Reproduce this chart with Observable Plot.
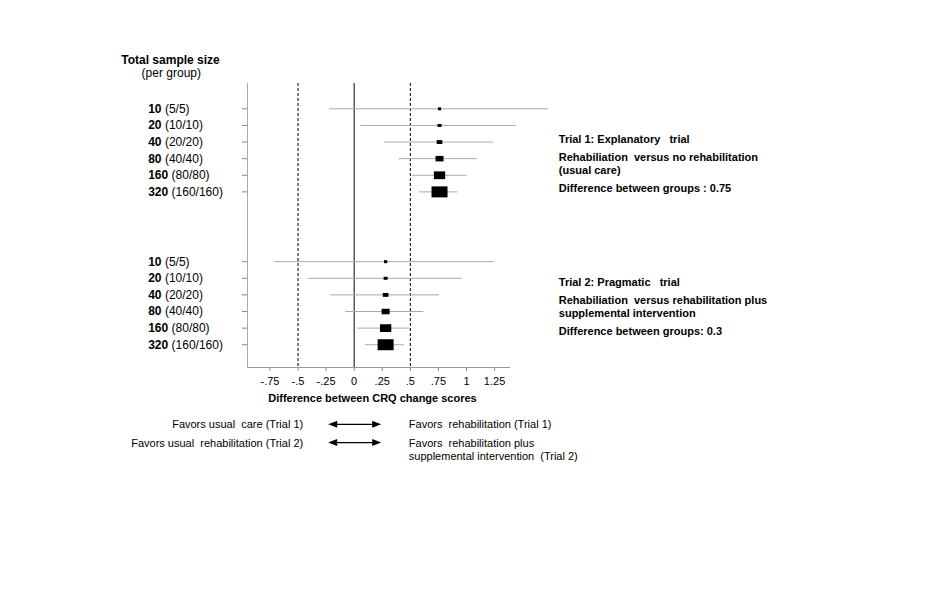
<!DOCTYPE html>
<html>
<head>
<meta charset="utf-8">
<script src="https://cdn.jsdelivr.net/npm/d3@7"></script>
<script src="https://cdn.jsdelivr.net/npm/@observablehq/plot@0.6"></script>
<style>
  body { margin: 0; background: #fff; }
  #chart { width: 940px; height: 600px; }
</style>
</head>
<body>
<div id="chart"></div>
<script>
// ---------- data ----------
const sampleSizes = [10, 20, 40, 80, 160, 320];
const trial1Estimate = [0.76, 0.76, 0.76, 0.76, 0.76, 0.76];
const trial1Lower    = [-0.22, 0.06, 0.27, 0.40, 0.52, 0.58];
const trial1Upper    = [1.73, 1.445, 1.24, 1.095, 1.005, 0.925];
const trial2Estimate = [0.28, 0.28, 0.28, 0.28, 0.28, 0.28];
const trial2Lower    = [-0.71, -0.41, -0.21, -0.075, 0.03, 0.10];
const trial2Upper    = [1.25, 0.965, 0.76, 0.62, 0.495, 0.445];
const xTicks = [-0.75, -0.5, -0.25, 0, 0.25, 0.5, 0.75, 1, 1.25];
const referenceLines = [-0.5, 0.5];

const trial1Notes = ["Trial 1: Explanatory   trial", "Rehabiliation  versus no rehabilitation", "(usual care)", "Difference between groups : 0.75"];
const trial2Notes = ["Trial 2: Pragmatic   trial", "Rehabiliation  versus rehabilitation plus", "supplemental intervention", "Difference between groups: 0.3"];
const favorsLeft  = ["Favors usual  care (Trial 1)", "Favors usual  rehabilitation (Trial 2)"];
const favorsRight = ["Favors  rehabilitation (Trial 1)", "Favors  rehabilitation plus", "supplemental intervention  (Trial 2)"];
const titleLines = ["Total sample size", "(per group)"];
const xLabel = "Difference between CRQ change scores";

// ---------- table ----------
const TRIAL_OFFSET = 9.2; // row index shift of the second block
const rows = [];
[[trial1Estimate, trial1Lower, trial1Upper], [trial2Estimate, trial2Lower, trial2Upper]].forEach(([est, lo, hi], t) => {
  sampleSizes.forEach((n, i) => {
    rows.push({row: i + t * TRIAL_OFFSET, n, est: est[i], lo: lo[i], hi: hi[i],
               label: `${n} (${n / 2}/${n / 2})`});
  });
});
const rowValues = rows.map(d => d.row);

// ---------- layout ----------
const W = 940, H = 600;
const mL = 247, mR = 430, mT = 83, mB = 233;
const xDomain = [-0.95, 1.392];
const yDomain = [-1.524, 15.57];
const bottom = H - mB;

const rectSymbol = {
  draw(ctx, size) {
    const r = Math.sqrt(size / Math.PI);
    const w = Math.max(1.6, r * 0.8), h = Math.max(1.5, r * 0.55);
    ctx.moveTo(-w, -h); ctx.lineTo(w, -h); ctx.lineTo(w, h); ctx.lineTo(-w, h); ctx.closePath();
  }
};
const fmt = d => d === 0 ? "0" : String(d).replace(/^(-?)0\./, "$1.");
const font = "Liberation Sans, Arial, Helvetica, sans-serif";

const marks = [
  Plot.ruleX([xDomain[0]], {stroke: "#aaa"}),
  Plot.ruleY([yDomain[1]], {stroke: "#999"}),
  Plot.ruleX([0], {stroke: "#333", strokeWidth: 1.2}),
  Plot.ruleX(referenceLines, {stroke: "#000", strokeDasharray: "3,2"}),
  Plot.ruleY(rows, {y: "row", x1: "lo", x2: "hi", stroke: "#aaa", strokeWidth: 1}),
  Plot.dot(rows, {x: "est", y: "row", r: "n", symbol: rectSymbol, fill: "#000", stroke: "none"}),
  Plot.text(rows, {y: "row", text: "label", frameAnchor: "left", textAnchor: "start", lineAnchor: "middle", dx: -99.3, fontSize: 12}),
  Plot.text([titleLines[0]], {frameAnchor: "top-left", textAnchor: "middle", lineAnchor: "middle", dx: -77, dy: -23, fontSize: 12, fontWeight: "bold"}),
  Plot.text([titleLines[1]], {frameAnchor: "top-left", textAnchor: "middle", lineAnchor: "middle", dx: -76.2, dy: -10.7, fontSize: 12}),
  Plot.text([xLabel], {frameAnchor: "bottom", textAnchor: "middle", lineAnchor: "middle", dx: -6.5, dy: 31, fontSize: 11, fontWeight: "bold"})
];
const noteOffsets = [0, 18.5, 31, 49.2];
trial1Notes.forEach((s, i) => marks.push(Plot.text([s], {frameAnchor: "top-right", textAnchor: "start", lineAnchor: "middle", dx: 48.3, dy: 55.5 + noteOffsets[i], fontSize: 11, fontWeight: "bold"})));
trial2Notes.forEach((s, i) => marks.push(Plot.text([s], {frameAnchor: "top-right", textAnchor: "start", lineAnchor: "middle", dx: 48.3, dy: 198.7 + noteOffsets[i], fontSize: 11, fontWeight: "bold"})));
const legendOffsets = [57.3, 75.6, 89];
favorsLeft.forEach((s, i) => marks.push(Plot.text([s], {frameAnchor: "bottom-left", textAnchor: "end", lineAnchor: "middle", dx: 55.7, dy: legendOffsets[i], fontSize: 11})));
favorsRight.forEach((s, i) => marks.push(Plot.text([s], {frameAnchor: "bottom-left", textAnchor: "start", lineAnchor: "middle", dx: 161.3, dy: legendOffsets[i], fontSize: 11})));

const chart = Plot.plot({
  width: W, height: H,
  marginLeft: mL, marginRight: mR, marginTop: mT, marginBottom: mB,
  style: `font-family: ${font}; font-size: 11px; color: #000; background: #fff; white-space: pre; overflow: visible;`,
  x: {domain: xDomain, ticks: xTicks, tickFormat: fmt, tickSize: 4, tickPadding: 6, label: null},
  y: {domain: yDomain, reverse: true, ticks: rowValues, tickSize: 5, tickFormat: () => "", label: null},
  r: {type: "sqrt", domain: [0, 320], range: [0, 10]},
  marks
});
document.getElementById("chart").appendChild(chart);

// bold sample-size number in row labels
d3.select(chart).selectAll("text").each(function () {
  const m = this.textContent.match(/^(\d+) (\(\d+\/\d+\))$/);
  if (m) {
    const s = d3.select(this);
    s.text(null);
    s.append("tspan").attr("font-weight", "bold").text(m[1]);
    s.append("tspan").text(" " + m[2]);
  }
});
// grey axis ticks
d3.select(chart).selectAll('.tick line, [aria-label$="tick"] path, [aria-label$="tick"]').attr("stroke", "#888");

// double-headed arrows of the direction legend, centred on x = 0
const xs = chart.scale("x");
const cx = xs.apply(0) + 1, half = 26.5, head = 9, hh = 3.5;
const g = d3.select(chart).append("g");
[bottom + legendOffsets[0], bottom + legendOffsets[1]].forEach(y => {
  g.append("line").attr("x1", cx - half + head - 1).attr("x2", cx + half - head + 1)
    .attr("y1", y).attr("y2", y).attr("stroke", "#000").attr("stroke-width", 1.3);
  g.append("polygon").attr("points", `${cx - half},${y} ${cx - half + head},${y - hh} ${cx - half + head},${y + hh}`).attr("fill", "#000");
  g.append("polygon").attr("points", `${cx + half},${y} ${cx + half - head},${y - hh} ${cx + half - head},${y + hh}`).attr("fill", "#000");
});
</script>
</body>
</html>
